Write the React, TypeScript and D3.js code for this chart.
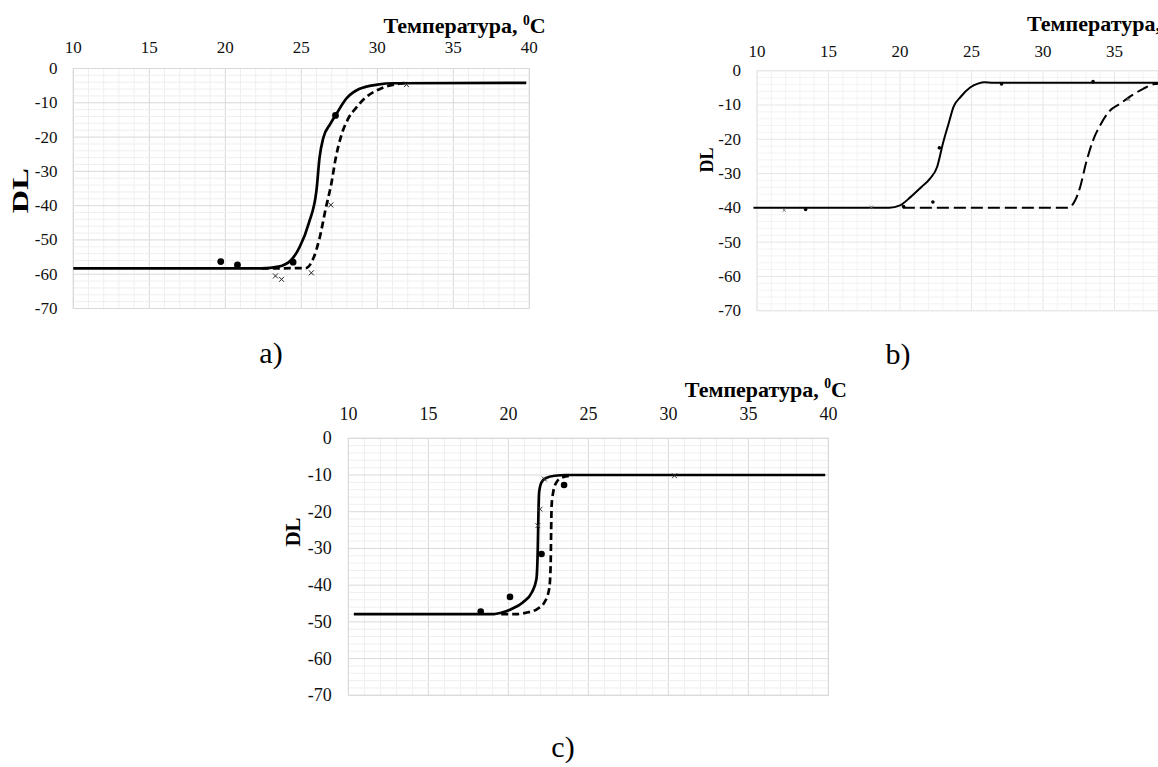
import React from "react";
import * as d3 from "d3";

// ---------- data ----------
const xTicks = [10, 15, 20, 25, 30, 35, 40];
const yTicks = [0, -10, -20, -30, -40, -50, -60, -70];

// panel a
const aSolidT = [10, 22.4, 23.5, 24.3, 24.9, 25.5, 26.0, 26.2, 26.45, 26.9, 27.3, 28.0, 28.8, 30.0, 31.1, 39.8];
const aSolidDL = [-58.3, -58.3, -57.8, -56.0, -52, -45, -35.5, -26, -20.2, -16.2, -13.3, -8.6, -6.0, -4.7, -4.3, -4.2];
const aDashT = [22.4, 25.3, 25.8, 26.2, 26.6, 27.0, 27.25, 27.6, 28.1, 28.6, 29.2, 30.1, 31.1, 32.0];
const aDashDL = [-58.3, -58.2, -55.3, -49.5, -41, -33, -26.5, -20, -14.5, -11.5, -8.6, -6.1, -4.7, -4.2];
const aDotT = [19.7, 20.8, 24.46, 27.25];
const aDotDL = [-56.3, -57.3, -56.5, -13.7];
const aCrossT = [23.3, 23.7, 25.66, 26.94, 31.92];
const aCrossDL = [-60.5, -61.5, -59.6, -39.8, -4.7];

// panel b
const bSolidT = [9.75, 19.25, 20.0, 20.75, 21.5, 22.1, 22.6, 23.0, 23.4, 23.75, 24.25, 24.9, 25.5, 25.9, 26.5, 40];
const bSolidDL = [-40, -40, -39.3, -36.8, -33.9, -31.5, -28, -21.2, -15.4, -10.5, -7.6, -4.9, -3.7, -3.4, -3.5, -3.5];
const bDashT = [20.2, 31.75, 32.25, 32.6, 33.0, 33.5, 34.0, 34.6, 35.4, 36.0, 37.0, 37.8, 40];
const bDashDL = [-40, -40, -37.8, -33.9, -27.1, -20.3, -15.9, -12, -9.6, -7.8, -5.3, -3.9, -3.5];
const bDotT = [13.4, 20.25, 22.3, 22.75, 27.1, 33.5];
const bDotDL = [-40.5, -39.6, -38.3, -22.5, -3.9, -3.2];
const bCrossT = [11.9, 18.0, 36.0];
const bCrossDL = [-40.7, -39.8, -8.4];

// panel c
const cSolidT = [10.34, 19.1, 19.55, 20.2, 20.9, 21.46, 21.75, 21.84, 21.87, 21.92, 22.07, 22.36, 22.9, 23.6, 39.8];
const cSolidDL = [-47.9, -47.9, -47.5, -46.5, -44.7, -42, -38.4, -29.3, -22, -14.7, -12, -10.8, -10.2, -10, -10];
const cDashT = [19.55, 20.5, 21.1, 21.8, 22.25, 22.55, 22.64, 22.67, 22.7, 22.8, 23.0, 23.4, 23.8];
const cDashDL = [-47.9, -47.9, -47.5, -46.5, -44.7, -41, -34.7, -25.6, -18.4, -14.7, -12, -10.6, -10.2];
const cDotT = [18.27, 20.1, 22.07, 23.48];
const cDotDL = [-47.2, -43.2, -31.5, -12.7];
const cCrossT = [22.25, 21.98, 21.84, 30.38];
const cCrossDL = [-11.1, -19.3, -23.8, -10.2];

const titleText = "Температура, ";
const yTitle = "DL";
const captions = ["a)", "b)", "c)"];

const zip = (xs: number[], ys: number[]) => xs.map((x, i) => [x, ys[i]] as [number, number]);

type PanelProps = {
  left: number; right: number; top: number; bottom: number;
  xLabelY: number; yLabelX: number; fontSize: number;
  majorColor: string; minorColor: string; lineWidth: number; dash: string;
  solid: [number, number][]; dashed: [number, number][];
  dots: [number, number][]; crosses: [number, number][];
  dotR: number; crossR: number; crossColor: string;
  title: { x: number; y: number; anchor: string; size: number };
  dl: { x: number; y: number; size: number; len?: number };
  caption: { x: number; y: number; text: string };
};

function Panel(p: PanelProps) {
  const x = d3.scaleLinear().domain([10, 40]).range([p.left, p.right]);
  const y = d3.scaleLinear().domain([0, -70]).range([p.top, p.bottom]);
  const line = d3.line<[number, number]>().x(d => x(d[0])).y(d => y(d[1])).curve(d3.curveMonotoneX);
  const xMinor = d3.range(10, 40.01, 1);
  const yMinor = d3.range(0, -70.01, -2);
  const ff = "'Liberation Serif', 'Times New Roman', serif";
  return (
    <g>
      {/* grid */}
      {xMinor.map(v => (
        <line key={"vx" + v} x1={x(v)} x2={x(v)} y1={p.top} y2={p.bottom}
          stroke={v % 5 === 0 ? p.majorColor : p.minorColor} strokeWidth={1} />
      ))}
      {yMinor.map(v => (
        <line key={"hy" + v} x1={p.left} x2={p.right} y1={y(v)} y2={y(v)}
          stroke={Math.round(v) % 10 === 0 ? p.majorColor : p.minorColor} strokeWidth={1} />
      ))}
      <rect x={p.left} y={p.top} width={p.right - p.left} height={p.bottom - p.top} fill="none" stroke={p.majorColor} strokeWidth={1} />
      {/* tick labels */}
      {xTicks.map(t => (
        <text key={"xt" + t} x={x(t)} y={p.xLabelY} textAnchor="middle" fontFamily={ff} fontSize={p.fontSize} fill="#111">{t}</text>
      ))}
      {yTicks.map(t => (
        <text key={"yt" + t} x={p.yLabelX} y={y(t)} textAnchor="end" dominantBaseline="central" fontFamily={ff} fontSize={p.fontSize} fill="#111">{t}</text>
      ))}
      {/* title */}
      <text x={p.title.x} y={p.title.y} textAnchor={p.title.anchor as any} fontFamily={ff} fontWeight="bold" fontSize={p.title.size} fill="#000">
        {titleText}
        <tspan fontSize={p.title.size * 0.62} dy={-p.title.size * 0.38}>0</tspan>
        <tspan dy={p.title.size * 0.38}>C</tspan>
      </text>
      <text transform={`translate(${p.dl.x},${p.dl.y}) rotate(-90)`} textAnchor="middle" dominantBaseline="central"
        fontFamily={ff} fontWeight="bold" fontSize={p.dl.size} fill="#000"
        {...(p.dl.len ? { textLength: p.dl.len, lengthAdjust: "spacingAndGlyphs" } : {})}>{yTitle}</text>
      {/* curves */}
      <path d={line(p.dashed) || ""} fill="none" stroke="#000" strokeWidth={p.lineWidth} strokeDasharray={p.dash} />
      <path d={line(p.solid) || ""} fill="none" stroke="#000" strokeWidth={p.lineWidth} />
      {/* markers */}
      {p.dots.map((d, i) => (
        <circle key={"d" + i} cx={x(d[0])} cy={y(d[1])} r={p.dotR} fill="#000" />
      ))}
      {p.crosses.map((d, i) => {
        const cx = x(d[0]), cy = y(d[1]), r = p.crossR;
        return (
          <path key={"c" + i} d={`M${cx - r},${cy - r}L${cx + r},${cy + r}M${cx - r},${cy + r}L${cx + r},${cy - r}`}
            stroke={p.crossColor} strokeWidth={1} fill="none" />
        );
      })}
      <text x={p.caption.x} y={p.caption.y} textAnchor="middle" fontFamily={ff} fontSize={30} fill="#000">{p.caption.text}</text>
    </g>
  );
}

export default function App() {
  return (
    <svg width={1158} height={767} style={{ position: "absolute", left: 0, top: 0, background: "#fff" }}>
      <rect x={0} y={0} width={1158} height={767} fill="#fff" />
      <Panel left={73.3} right={529.3} top={68.5} bottom={308.5}
        xLabelY={53.3} yLabelX={57.4} fontSize={17}
        majorColor="#d9d9d9" minorColor="#efefef" lineWidth={2.7} dash="7,4"
        solid={zip(aSolidT, aSolidDL)} dashed={zip(aDashT, aDashDL)}
        dots={zip(aDotT, aDotDL)} crosses={zip(aCrossT, aCrossDL)}
        dotR={3.4} crossR={2.5} crossColor="#222"
        title={{ x: 545.6, y: 33.3, anchor: "end", size: 22 }}
        dl={{ x: 19.5, y: 190.7, size: 24, len: 45 }}
        caption={{ x: 271, y: 363, text: captions[0] }} />
      <Panel left={757} right={1186} top={70.7} bottom={310.7}
        xLabelY={56.7} yLabelX={741} fontSize={17}
        majorColor="#e6e6e6" minorColor="#f3f3f3" lineWidth={2} dash="12,5"
        solid={zip(bSolidT, bSolidDL)} dashed={zip(bDashT, bDashDL)}
        dots={zip(bDotT, bDotDL)} crosses={zip(bCrossT, bCrossDL)}
        dotR={1.8} crossR={1.6} crossColor="#777"
        title={{ x: 1027, y: 30.7, anchor: "start", size: 22 }}
        dl={{ x: 707.3, y: 160, size: 18 }}
        caption={{ x: 898, y: 364, text: captions[1] }} />
      <Panel left={348.4} right={828.4} top={438.3} bottom={695.3}
        xLabelY={420} yLabelX={331.7} fontSize={18}
        majorColor="#d9d9d9" minorColor="#efefef" lineWidth={2.7} dash="7,4"
        solid={zip(cSolidT, cSolidDL)} dashed={zip(cDashT, cDashDL)}
        dots={zip(cDotT, cDotDL)} crosses={zip(cCrossT, cCrossDL)}
        dotR={3.3} crossR={2.4} crossColor="#333"
        title={{ x: 847, y: 396.7, anchor: "end", size: 22 }}
        dl={{ x: 293, y: 532, size: 21 }}
        caption={{ x: 563, y: 757, text: captions[2] }} />
    </svg>
  );
}
